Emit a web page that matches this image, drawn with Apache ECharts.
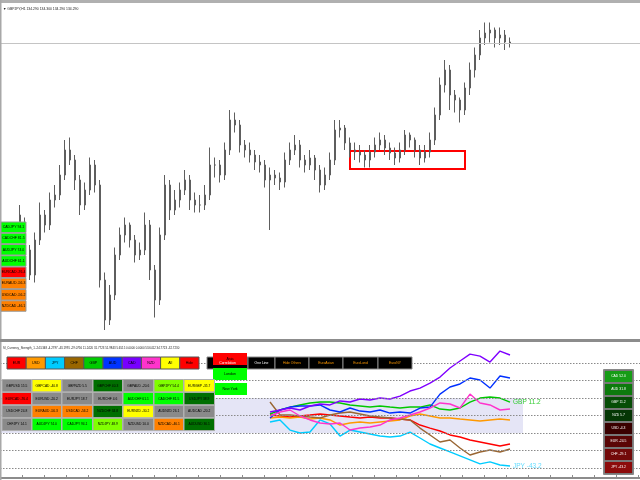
<!DOCTYPE html>
<html><head><meta charset="utf-8">
<script src="https://cdn.jsdelivr.net/npm/echarts@6/dist/echarts.min.js"></script>
<style>html,body{margin:0;padding:0;background:#fff}#c{width:640px;height:480px}</style>
</head><body><div id="c"></div>
<script>
// ---------- DATA ----------
const priceTitle = '\u25BC GBPJPY,H1 134.290 134.300 134.290 134.290';
const lastPrice = 134.29;
const barStart = 4;          // first slot holding a bar
const slotCount = 129;       // slots across the chart
const priceOpen = [130.85,130.65,130.15,129.65,130.35,130.85,130.65,131.15,131.25,131.65,
132.15,131.95,131.55,131.05,131.35,131.85,131.45,129.55,128.75,129.25,
130.05,130.45,130.65,130.35,130.05,130.15,130.65,129.75,129.15,130.45,
131.45,130.95,131.15,131.35,131.55,131.15,131.05,131.05,131.25,131.85,
131.85,131.65,132.15,132.75,132.65,132.25,132.15,132.05,131.91,131.85,
131.55,131.65,131.59,131.51,131.95,132.15,132.25,131.95,131.85,131.99,
131.75,131.45,131.65,131.95,132.55,132.59,132.29,132.15,132.11,132.05,
131.95,132.11,132.25,132.35,132.19,132.09,131.99,132.15,132.45,132.35,
132.15,131.99,132.11,132.35,132.85,133.45,133.75,133.25,133.15,132.95,
133.39,133.75,134.05,134.39,134.49,134.55,134.39,134.45,134.31];
const priceClose = [130.65,130.15,129.65,130.35,130.85,130.65,131.15,131.25,131.65,132.15,
131.95,131.55,131.05,131.35,131.85,131.45,129.55,128.75,129.25,130.05,
130.45,130.65,130.35,130.05,130.15,130.65,129.75,129.15,130.45,131.45,
130.95,131.15,131.35,131.55,131.15,131.05,131.05,131.25,131.85,131.85,
131.65,132.15,132.75,132.65,132.25,132.15,132.05,131.91,131.85,131.55,
131.65,131.59,131.51,131.95,132.15,132.25,131.95,131.85,131.99,131.75,
131.45,131.65,131.95,132.55,132.59,132.29,132.15,132.11,132.05,131.95,
132.11,132.25,132.35,132.19,132.09,131.99,132.15,132.45,132.35,132.15,
131.99,132.11,132.35,132.85,133.45,133.75,133.25,133.15,132.95,133.39,
133.75,134.05,134.39,134.49,134.55,134.39,134.45,134.31,134.29];
const priceHigh = [131.05,130.8,130.25,130.5,131.1,130.95,131.3,131.45,131.85,132.35,
132.4,132.05,131.65,131.5,132.0,131.95,131.55,129.7,129.45,130.2,
130.6,130.8,130.7,130.45,130.3,130.9,130.75,129.85,130.6,131.65,
131.55,131.35,131.5,131.75,131.65,131.3,131.25,131.45,132.2,132.0,
131.95,132.3,132.95,132.9,132.75,132.35,132.3,132.15,132.05,131.95,
131.8,131.75,131.7,132.1,132.3,132.45,132.35,132.05,132.15,132.05,
131.85,131.8,132.1,132.75,132.75,132.65,132.4,132.3,132.25,132.15,
132.25,132.4,132.5,132.45,132.3,132.2,132.3,132.55,132.5,132.4,
132.25,132.25,132.5,133.0,133.6,133.95,133.85,133.35,133.2,133.5,
133.9,134.2,134.55,134.7,134.7,134.6,134.6,134.55,134.4];
const priceLow = [130.55,130.0,129.55,129.5,130.25,130.5,130.55,131.0,131.15,131.55,
131.85,131.35,130.85,130.95,131.25,131.3,129.4,128.55,128.65,129.15,
129.95,130.3,130.2,129.9,129.95,130.05,129.55,128.8,129.05,130.35,
130.75,130.85,131.0,131.25,130.95,130.9,130.9,130.95,131.15,131.6,
131.5,131.55,132.05,132.5,132.1,132.0,131.9,131.75,131.7,131.4,
130.55,131.45,131.35,131.4,131.85,132.05,131.8,131.7,131.75,131.55,
131.3,131.35,131.55,131.85,132.4,132.15,132.0,131.95,131.9,131.8,
131.8,132.0,132.15,132.05,131.95,131.85,131.9,132.05,132.2,132.0,
131.85,131.9,132.0,132.25,132.75,133.3,132.95,132.9,132.7,132.85,
133.25,133.6,133.95,134.25,134.3,134.2,134.25,134.15,134.2];
const rangeBoxSlots = ['70', '93'];
const rangeBoxPrices = [132.13, 131.77];

const currencies = ['EUR','USD','JPY','CHF','GBP','AUD','CAD','NZD'];
const strengthNow = [-24.5348, -4.2797, -43.1991, -29.0756, 11.2420, 31.7723, 51.9843, 5.6515];
const indicatorTitle = 'SI_Currency_Strength_1 -24.5348 -4.2797 -43.1991 -29.0756 11.2420 31.7723 51.9843 5.6515 0.0000 0.0000 53.6412 34.7723 -32.7230';
const strengthSlots = [54,56,58,60,62,64,66,68,70,72,74,76,78,80,82,84,86,88,90,92,94,96,98,100,102];
const strengthEUR = [0.4,-0.4,-1.3,-0.4,0.4,1.3,0.4,-0.4,-1.3,-2.1,-1.3,-2.1,-2.1,-3.0,-3.8,-8.1,-10.7,-13.2,-16.6,-18.3,-20.9,-22.6,-24.3,-26.0,-24.3];
const strengthUSD = [-2.1,-1.3,-2.1,-1.3,-3.0,-2.1,-3.8,-8.1,-6.4,-5.5,-6.4,-5.5,-4.7,-3.8,-0.4,1.3,-0.4,-2.1,-2.1,-3.0,-3.8,-4.7,-3.8,-3.0,-3.8];
const strengthJPY = [-5.5,-3.8,-12.4,-14.9,-14.1,-3.8,-7.2,-17.5,-12.4,-14.1,-15.8,-17.5,-18.3,-17.5,-14.1,-19.2,-24.3,-27.7,-31.1,-34.5,-37.9,-41.3,-39.6,-42.2,-43.1];
const strengthCHF = [11.5,0.4,0.4,-0.4,-1.3,-2.1,0.4,2.1,3.0,1.3,-0.4,-1.3,-2.1,-3.0,-3.8,-10.7,-16.6,-22.6,-20.9,-27.7,-33.7,-31.1,-29.4,-31.1,-28.6];
const strengthGBP = [1.3,4.7,7.2,9.0,10.7,11.5,11.5,10.7,9.0,8.1,7.2,8.1,7.2,6.4,7.2,7.2,9.0,5.5,4.7,6.4,11.5,14.9,15.8,14.9,11.5];
const strengthAUD = [-2.1,4.7,7.2,8.1,8.1,9.0,4.7,3.0,6.4,3.8,3.0,4.7,2.1,3.0,2.1,6.4,7.2,18.3,24.3,26.9,32.0,30.3,23.4,33.7,32.0];
const strengthCAD = [3.0,4.7,6.4,4.7,8.1,9.8,9.0,12.4,11.5,14.1,13.2,14.9,14.1,16.6,20.9,23.4,27.7,32.8,40.5,46.5,52.4,50.7,45.6,55.0,51.6];
const strengthNZD = [-0.4,3.0,4.7,-0.4,-3.8,-6.4,-7.2,-6.4,-12.4,-10.7,-9.8,-8.1,-3.8,-2.1,0.4,3.0,6.4,10.7,9.8,6.4,18.3,10.7,9.0,4.7,5.5];
const strengthLevels = [45, 30, 15, 0, -15, -30, -45];
const neutralZone = [15, -15];
const neutralZoneEndSlot = 104.6;

const pairNames = [
 'GBPUSD','GBPCAD','GBPNZD','GBPCHF','GBPAUD','GBPJPY','EURGBP',
 'EURCAD','EURUSD','EURJPY','EURCHF','AUDCHF','CADCHF','USDJPY',
 'USDCHF','EURAUD','USDCAD','NZDCHF','EURNZD','AUDNZD','AUDCAD',
 'CHFJPY','AUDJPY','CADJPY','NZDJPY','NZDUSD','NZDCAD','AUDUSD'];
const pairValues = [
 15.5,-40.8,5.5,40.3,-20.6,54.4,-35.7,
 -76.4,-20.2,18.7,4.6,61.1,81.5,38.9,
 24.8,-56.3,-56.2,34.8,-30.2,26.1,-20.2,
 14.1,74.0,94.1,48.9,10.0,-46.1,36.1];
const watchPairs = ['CADJPY','CADCHF','AUDJPY','AUDCHF','EURCAD','EURAUD','USDCAD','NZDCAD'];
const watchValues = [94.1,81.5,74.0,61.1,-76.4,-56.3,-56.2,-46.1];
const currencyButtons = ['EUR','USD','JPY','CHF','GBP','AUD','CAD','NZD','All','Hide'];
const modeButtons = ['Correlation','One Line','Hide Others','EuroAsian','EuroLond','EuroNY'];
const sessionButtons = ['Asia','London','New York'];

// ---------- STYLE ----------
const FONT = 'Liberation Sans';
const curColor = {EUR:'#ff0000',USD:'#ff9900',JPY:'#00ccff',CHF:'#996633',GBP:'#00c800',AUD:'#0030ff',CAD:'#7f00ff',NZD:'#ff33cc'};
const buttonColors = ['#ff0000','#ff9900','#00ccff','#996600','#00cc00','#0033ff','#7700ff','#ff33cc','#ffff00','#ff0000'];
function pairColor(v){
  if (v >= 60) return '#00ff00';
  if (v >= 45) return '#80ff00';
  if (v >= 30) return '#006f00';
  if (v > -30) return '#8a8a8a';
  if (v > -45) return '#ffff00';
  if (v > -60) return '#ff8000';
  return '#ff0000';
}
const strengthBoxColors = ['#169c16','#0c7a0c','#064d06','#043604','#3a0000','#5a0606','#720909','#8c0b0b'];

const chart = echarts.init(document.getElementById('c'), null, {renderer:'canvas'});
const slots = Array.from({length: slotCount}, (_, i) => String(i));
const candleData = [];
for (let i = 0; i < barStart; i++) candleData.push('-');
for (let i = 0; i < priceClose.length; i++) candleData.push([priceOpen[i], priceClose[i], priceLow[i], priceHigh[i]]);

const strengthArrays = {EUR:strengthEUR,USD:strengthUSD,JPY:strengthJPY,CHF:strengthCHF,GBP:strengthGBP,AUD:strengthAUD,CAD:strengthCAD,NZD:strengthNZD};
const lineSeries = currencies.map((c, k) => {
  const s = {
    name: c, type: 'line', xAxisIndex: 1, yAxisIndex: 1, z: 3,
    data: strengthSlots.map((x, i) => [x, strengthArrays[c][i]]),
    symbol: 'none', lineStyle: {color: curColor[c], width: 1.4}, itemStyle:{color: curColor[c]},
    silent: true, animation: false
  };
  if (c === 'GBP' || c === 'JPY') {
    s.endLabel = {show: true, formatter: c + ' ' + strengthNow[k].toFixed(1), color: c === 'GBP' ? '#33cc33' : '#66ddff',
      fontSize: 6.5, fontFamily: FONT, distance: 3};
  }
  return s;
});

// graphics
const G = [];
function box(x, y, w, h, fill, stroke, text, tcolor, fs) {
  G.push({type:'rect', z:100, shape:{x, y, width:w, height:h}, style:{fill, stroke: stroke || null, lineWidth: stroke ? 1 : 0}, silent:true});
  if (text) G.push({type:'text', z:101, x: x + w/2, y: y + h/2, silent:true,
    style:{text, fill: tcolor || '#000', font: (fs||3.6) + 'px ' + FONT, align:'center', verticalAlign:'middle', textAlign:'center', textVerticalAlign:'middle'}});
}
// window frame lines
G.push({type:'rect', z:100, shape:{x:0,y:0,width:640,height:3}, style:{fill:'#b0b0b0'}, silent:true});
G.push({type:'rect', z:100, shape:{x:0,y:0,width:1.5,height:480}, style:{fill:'#a8a8a8'}, silent:true});
G.push({type:'rect', z:100, shape:{x:0,y:339,width:640,height:3}, style:{fill:'#8c8c8c'}, silent:true});
// titles
G.push({type:'text', z:101, x:3, y:9, silent:true, style:{text: priceTitle, fill:'#222', font:'3.4px ' + FONT, verticalAlign:'middle', textVerticalAlign:'middle'}});
G.push({type:'text', z:101, x:3, y:348, silent:true, style:{text: indicatorTitle, fill:'#222', font:'2.9px ' + FONT, verticalAlign:'middle', textVerticalAlign:'middle'}});
// watch list on price panel
watchPairs.forEach((p, i) => box(1, 222 + i*11.25, 25, 10.5, pairColor(watchValues[i]), '#9a9a9a', p + ' ' + watchValues[i].toFixed(1), '#000', 3.5));
// currency buttons
currencyButtons.forEach((b, i) => box(7 + i*19.2, 357, 19.2, 12, buttonColors[i], '#555', b, '#000', 3.6));
// mode buttons
const modeEdges = [207,248,275,309,343,378,412];
modeButtons.forEach((b, i) => box(modeEdges[i], 357, modeEdges[i+1]-modeEdges[i], 12, '#000', '#888', b, i < 2 ? '#fff' : '#ff9900', 3.4));
// session buttons
sessionButtons.forEach((b, i) => box(213, 353 + i*15, 34, 12, i === 0 ? '#ff0000' : '#00ff00', null, b, '#000', 3.6));
// pair table
const colEdges = [2,32,62,93,123,154,184,215];
const rowEdges = [379.5,392.4,405.3,418.2,431.1];
pairNames.forEach((p, i) => {
  const r = Math.floor(i / 7), c = i % 7;
  box(colEdges[c], rowEdges[r], colEdges[c+1]-colEdges[c]-0.5, rowEdges[r+1]-rowEdges[r]-0.5, pairColor(pairValues[i]), '#b0b0b0',
      p + ' ' + pairValues[i].toFixed(1), '#000', 3.3);
});
// strength ranking
const order = currencies.map((c, i) => i).sort((a, b) => strengthNow[b] - strengthNow[a]);
G.push({type:'rect', z:99, shape:{x:603.5,y:369.5,width:30,height:105}, style:{fill:'#d8d8d8', stroke:'#888', lineWidth:1}, silent:true});
order.forEach((k, j) => box(604.5, 370.5 + j*13, 28, 12, strengthBoxColors[j], '#777', currencies[k] + ' ' + strengthNow[k].toFixed(1), '#fff', 3.4));

const option = {
  animation: false,
  backgroundColor: '#ffffff',
  grid: [
    {left: 0, right: 0, top: 5, height: 335, containLabel: false},
    {left: 0, right: 0, top: 342, height: 136, containLabel: false}
  ],
  xAxis: [
    {type:'category', gridIndex:0, data: slots, boundaryGap:false, show:false},
    {type:'value', gridIndex:1, min:0, max:slotCount-1, interval:4.4,
      axisLine:{show:true, onZero:false, lineStyle:{color:'#8c8c8c', width:2}},
      axisTick:{show:true, inside:true, length:3, lineStyle:{color:'#8c8c8c'}},
      axisLabel:{show:false}, splitLine:{show:false}}
  ],
  yAxis: [
    {type:'value', gridIndex:0, min:128.35, max:135.05, show:false, splitLine:{show:false}},
    {type:'value', gridIndex:1, min:-53.3, max:62.7, show:false, splitLine:{show:false}}
  ],
  series: [
    {
      type:'candlestick', xAxisIndex:0, yAxisIndex:0, data: candleData, barWidth: 2,
      itemStyle:{color:'#9a9a9a', color0:'#9a9a9a', borderColor:'#5e5e5e', borderColor0:'#5e5e5e', borderWidth:1},
      silent:true,
      markLine:{silent:true, symbol:'none', label:{show:false}, lineStyle:{color:'#c4c4c4', type:'solid', width:1},
        data:[{yAxis:lastPrice}]},
      markArea:{silent:true, itemStyle:{color:'rgba(0,0,0,0)', borderColor:'#ff0000', borderWidth:2},
        data:[[{xAxis: rangeBoxSlots[0], yAxis: rangeBoxPrices[0]}, {xAxis: rangeBoxSlots[1], yAxis: rangeBoxPrices[1]}]]}
    },
    {
      type:'line', xAxisIndex:1, yAxisIndex:1, data:[], z:1, silent:true,
      markArea:{silent:true, itemStyle:{color:'#e5e5f6'},
        data:[[{xAxis:0, yAxis:neutralZone[0]}, {xAxis:neutralZoneEndSlot, yAxis:neutralZone[1]}]]},
      markLine:{silent:true, symbol:'none', label:{show:false}, lineStyle:{color:'#8a8a8a', type:[1.5,1.5], width:1},
        data: strengthLevels.map(v => ({yAxis:v}))}
    },
    ...lineSeries
  ],
  graphic: G
};
chart.setOption(option);
</script>
</body></html>
